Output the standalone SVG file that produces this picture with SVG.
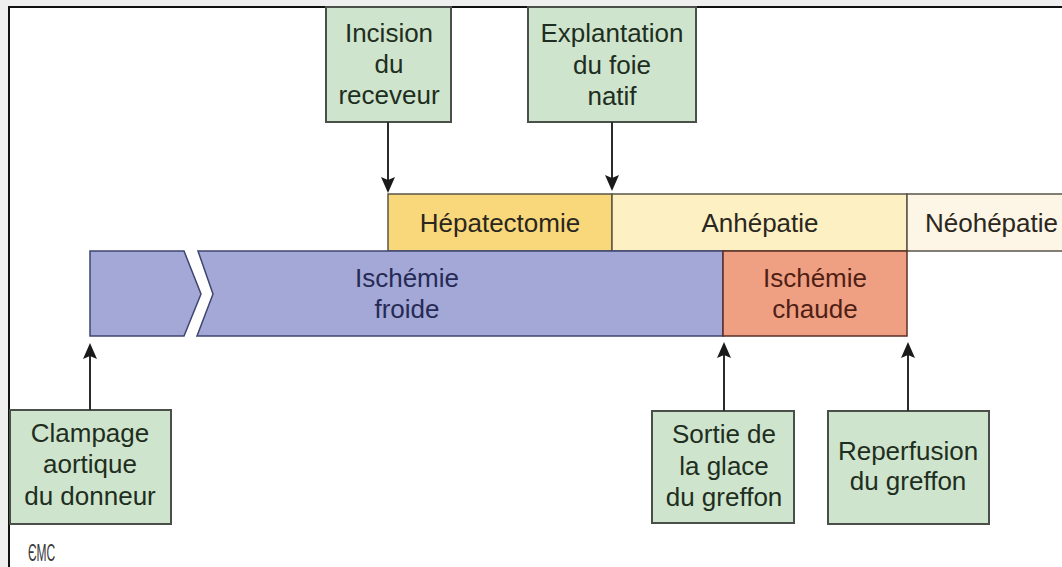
<svg xmlns="http://www.w3.org/2000/svg" width="1062" height="567" viewBox="0 0 1062 567">
  <style>
    text { font-family: "Liberation Sans", Arial, sans-serif; font-size: 26px; text-anchor: middle; }
    .box { fill: #cfe4cd; stroke: #4a4f4a; stroke-width: 2; }
    .boxtxt { fill: #1e2e20; }
    .band { stroke: #5a5548; stroke-width: 1.5; }
    .bandtxt { fill: #2a2620; }
    .cold { fill: #a3a8d6; stroke: #3f4470; stroke-width: 1.5; }
    .coldtxt { fill: #262a55; }
    .warm { fill: #ef9f82; stroke: #5a2f25; stroke-width: 1.5; }
    .warmtxt { fill: #4f1f16; }
    .conn { stroke: #2b2b2b; stroke-width: 2; fill: none; }
  </style>
  <defs>
    <marker id="arr" viewBox="0 0 16 14" refX="7" refY="7" markerWidth="16" markerHeight="14" markerUnits="userSpaceOnUse" orient="auto">
      <path d="M0,0 L16,7 L0,14 L3,7 Z" fill="#1a1a1a"/>
    </marker>
  </defs>

  <rect x="0" y="0" width="1062" height="567" fill="#efefef"/>
  <rect x="9" y="7" width="1070" height="580" fill="#ffffff" stroke="#111111" stroke-width="2"/>

  <g id="hepatectomie">
    <rect class="band" x="388" y="194" width="224" height="57" fill="#f8d87a"/>
    <text class="bandtxt" x="500" y="232">Hépatectomie</text>
  </g>
  <g id="anhepatie">
    <rect class="band" x="612" y="194" width="295" height="57" fill="#fdf0c2"/>
    <text class="bandtxt" x="760" y="232">Anhépatie</text>
  </g>
  <g id="neohepatie">
    <rect class="band" x="907" y="194" width="170" height="57" fill="#fdf5e5"/>
    <text class="bandtxt" x="925" y="232" style="text-anchor:start">Néohépatie</text>
  </g>

  <g id="ischemie-froide">
    <path class="cold" d="M90,251 H184 L201,294 L184,336 H90 Z"/>
    <path class="cold" d="M198,251 H723 V336 H197 L213,294 Z"/>
    <text class="coldtxt" x="407" y="287">Ischémie</text>
    <text class="coldtxt" x="407" y="318">froide</text>
  </g>
  <g id="ischemie-chaude">
    <rect class="warm" x="723" y="251" width="184" height="85"/>
    <text class="warmtxt" x="815" y="287">Ischémie</text>
    <text class="warmtxt" x="815" y="318">chaude</text>
  </g>

  <g id="incision">
    <rect class="box" x="326" y="7" width="125" height="115"/>
    <text class="boxtxt" x="389" y="42">Incision</text>
    <text class="boxtxt" x="389" y="73">du</text>
    <text class="boxtxt" x="389" y="104">receveur</text>
  </g>
  <g id="explantation">
    <rect class="box" x="528" y="7" width="168" height="115"/>
    <text class="boxtxt" x="612" y="42">Explantation</text>
    <text class="boxtxt" x="612" y="74">du foie</text>
    <text class="boxtxt" x="612" y="105">natif</text>
  </g>
  <g id="clampage">
    <rect class="box" x="10" y="410" width="161" height="114"/>
    <text class="boxtxt" x="90" y="442">Clampage</text>
    <text class="boxtxt" x="90" y="473">aortique</text>
    <text class="boxtxt" x="90" y="505">du donneur</text>
  </g>
  <g id="sortie">
    <rect class="box" x="652" y="411" width="142" height="112"/>
    <text class="boxtxt" x="724" y="443">Sortie de</text>
    <text class="boxtxt" x="724" y="475">la glace</text>
    <text class="boxtxt" x="724" y="506">du greffon</text>
  </g>
  <g id="reperfusion">
    <rect class="box" x="828" y="411" width="161" height="113"/>
    <text class="boxtxt" x="908" y="460">Reperfusion</text>
    <text class="boxtxt" x="908" y="490">du greffon</text>
  </g>

  <g id="connectors">
    <line class="conn" x1="388" y1="122" x2="388" y2="184" marker-end="url(#arr)"/>
    <line class="conn" x1="612" y1="122" x2="612" y2="182" marker-end="url(#arr)"/>
    <line class="conn" x1="90" y1="410" x2="90" y2="352" marker-end="url(#arr)"/>
    <line class="conn" x1="724" y1="411" x2="724" y2="351" marker-end="url(#arr)"/>
    <line class="conn" x1="908" y1="411" x2="908" y2="351" marker-end="url(#arr)"/>
  </g>

  <text x="0" y="0" transform="translate(28,561) scale(0.5,1)" style="font-size:24px;fill:#3a3a3a;text-anchor:start;font-family:'Liberation Sans',sans-serif">ЄMC</text>
</svg>
